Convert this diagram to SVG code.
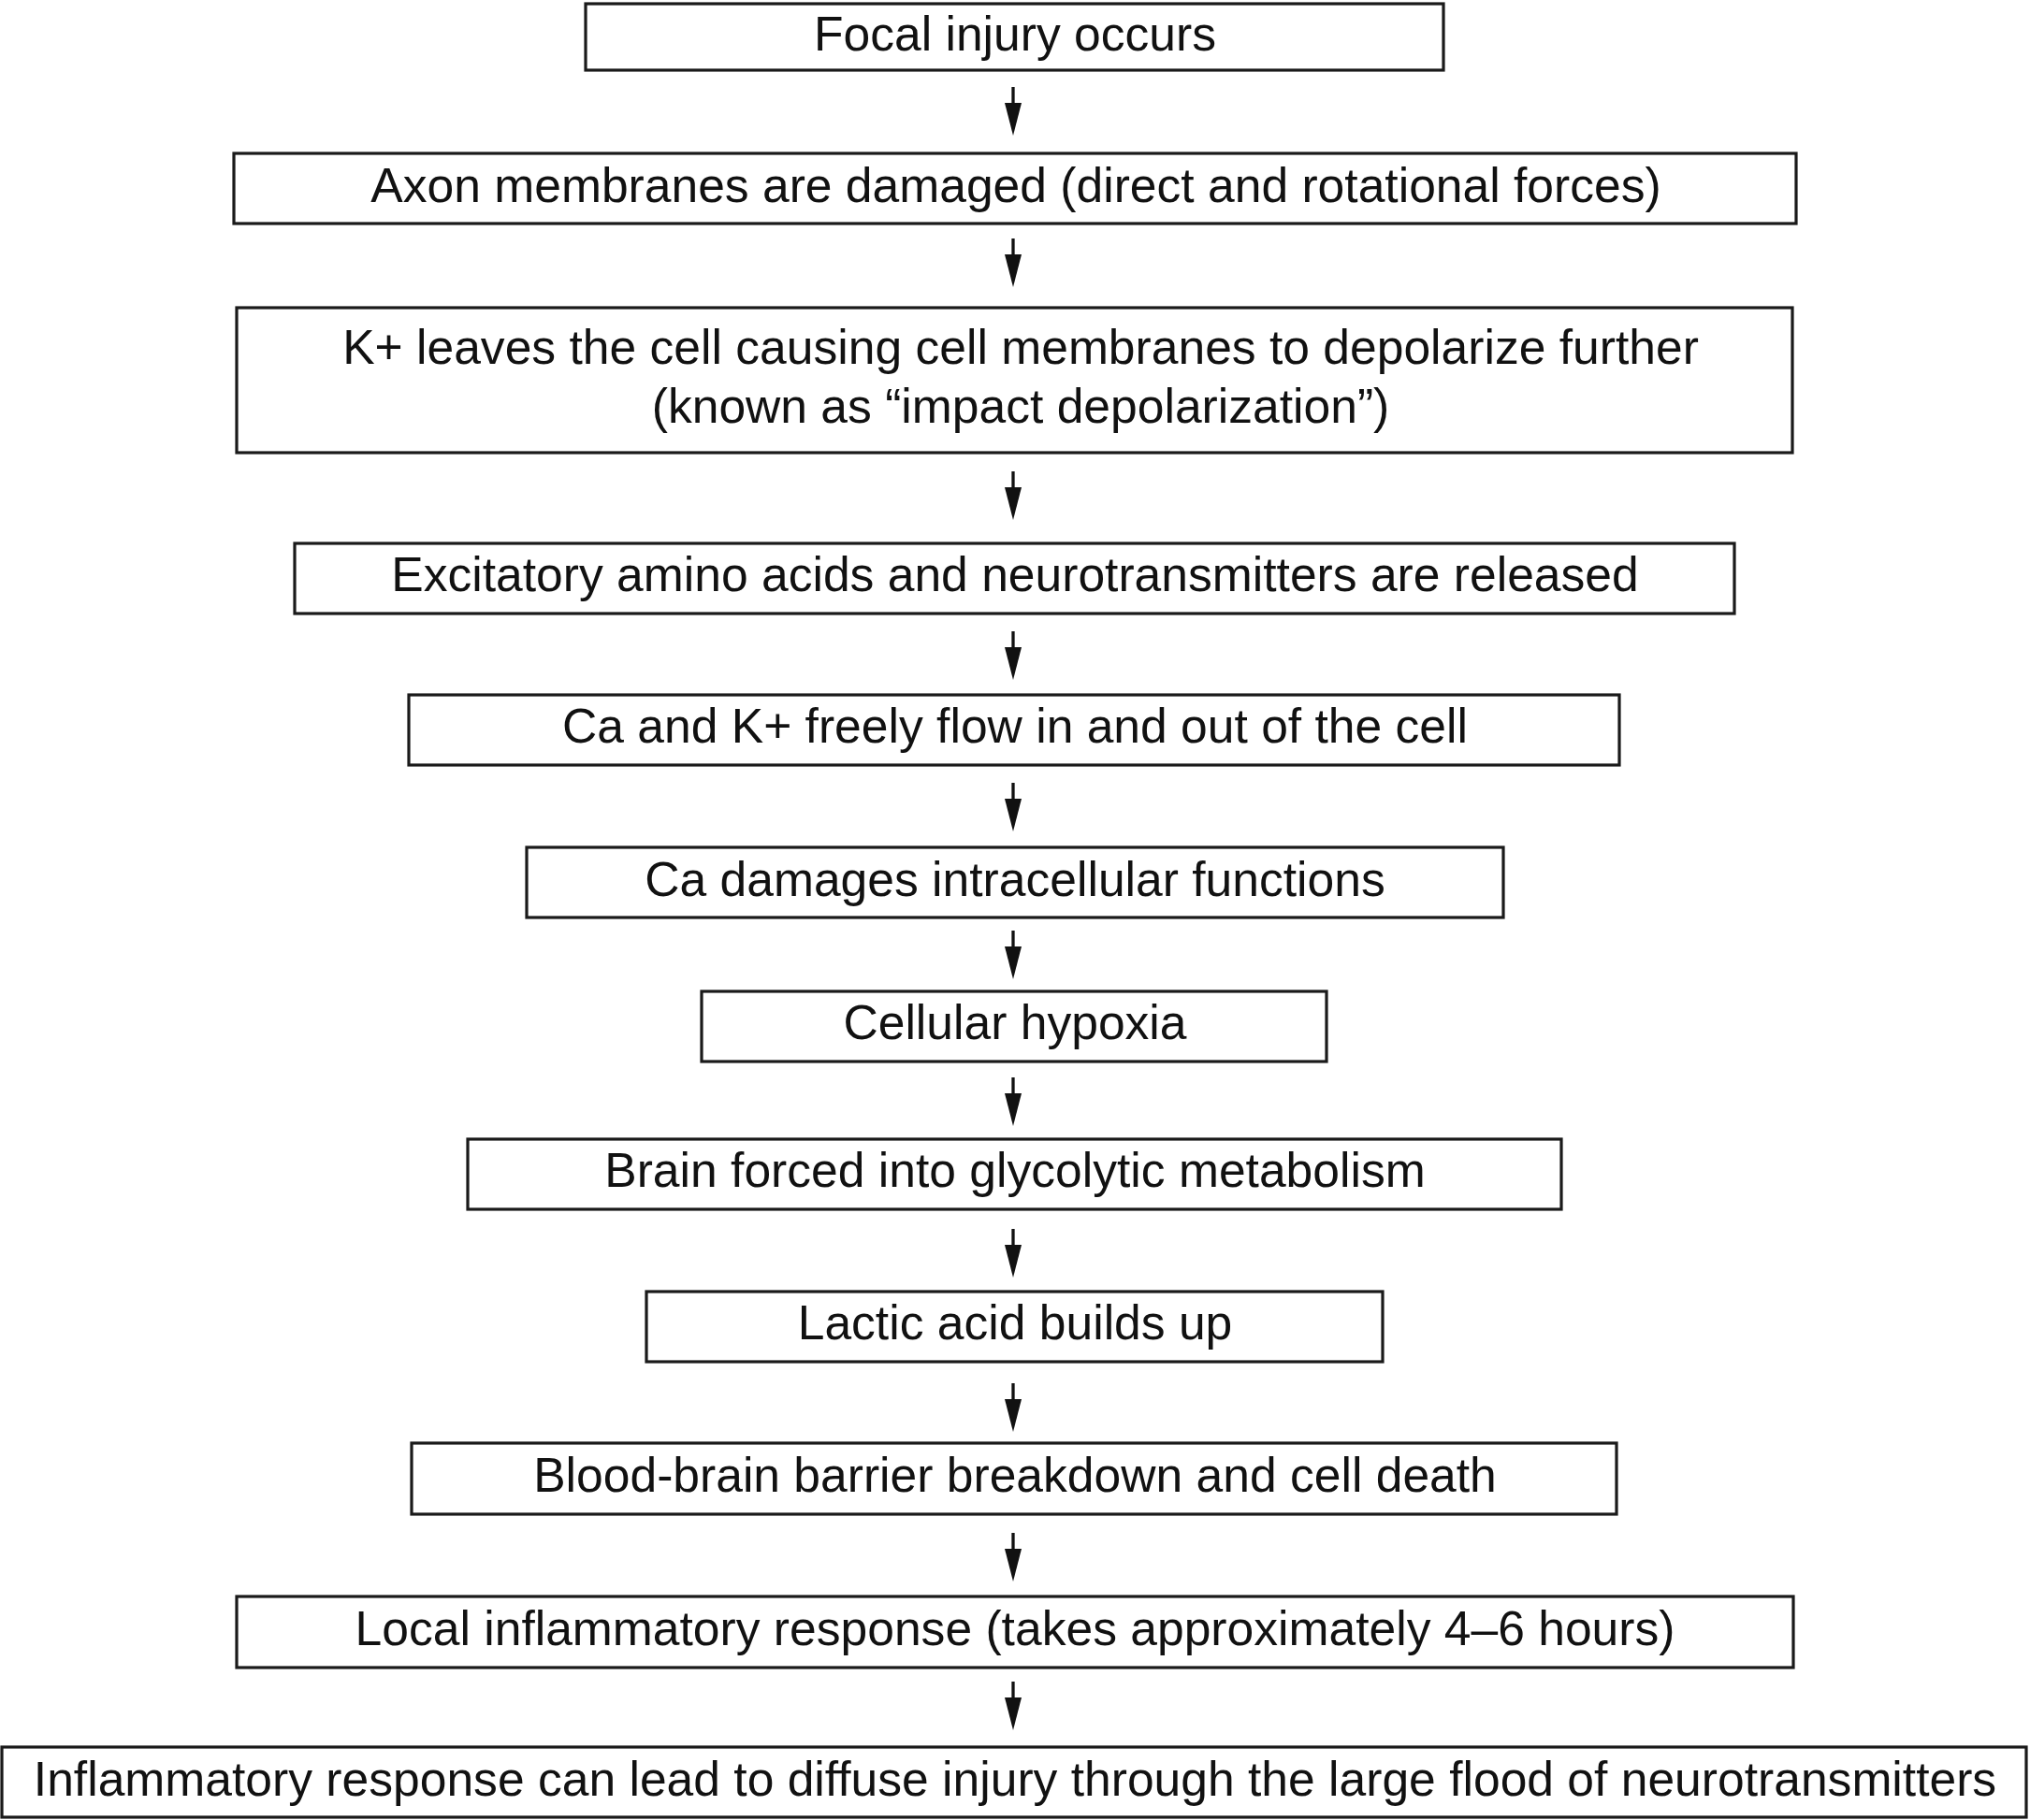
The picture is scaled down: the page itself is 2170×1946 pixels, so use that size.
<svg xmlns="http://www.w3.org/2000/svg" width="2170" height="1946" viewBox="0 0 2170 1946">
  <style>
    .box { fill: #ffffff; stroke: #1a1a1a; stroke-width: 3.2; }
    .lbl { font-family: "Liberation Sans", Arial, sans-serif; font-size: 51.6px; fill: #111111; text-anchor: middle; }
    .conn { stroke: #111111; stroke-width: 3.3; fill: none; }
  </style>
  <defs>
    <marker id="arrowhead" markerUnits="userSpaceOnUse" markerWidth="36" markerHeight="19" viewBox="0 0 36 19" refX="15" refY="9.5" orient="auto">
      <path d="M0,0.5 L35,9.5 L0,18.5 Z" fill="#111111"/>
    </marker>
  </defs>
  <rect width="2170" height="1946" fill="#ffffff"/>

  <g id="connectors">
    <line class="conn" x1="1083" y1="93" x2="1083" y2="125" marker-end="url(#arrowhead)"/>
    <line class="conn" x1="1083" y1="255" x2="1083" y2="287" marker-end="url(#arrowhead)"/>
    <line class="conn" x1="1083" y1="504" x2="1083" y2="536" marker-end="url(#arrowhead)"/>
    <line class="conn" x1="1083" y1="675" x2="1083" y2="707" marker-end="url(#arrowhead)"/>
    <line class="conn" x1="1083" y1="837" x2="1083" y2="869" marker-end="url(#arrowhead)"/>
    <line class="conn" x1="1083" y1="995" x2="1083" y2="1027" marker-end="url(#arrowhead)"/>
    <line class="conn" x1="1083" y1="1152" x2="1083" y2="1184" marker-end="url(#arrowhead)"/>
    <line class="conn" x1="1083" y1="1314" x2="1083" y2="1346" marker-end="url(#arrowhead)"/>
    <line class="conn" x1="1083" y1="1479" x2="1083" y2="1511" marker-end="url(#arrowhead)"/>
    <line class="conn" x1="1083" y1="1639" x2="1083" y2="1671" marker-end="url(#arrowhead)"/>
    <line class="conn" x1="1083" y1="1798" x2="1083" y2="1830" marker-end="url(#arrowhead)"/>
  </g>

  <g id="focal-injury">
    <rect class="box" x="626" y="4" width="917" height="71"/>
    <text class="lbl" x="1085" y="54">Focal injury occurs</text>
  </g>
  <g id="axon-damage">
    <rect class="box" x="250" y="164" width="1670" height="75"/>
    <text class="lbl" x="1086" y="216">Axon membranes are damaged (direct and rotational forces)</text>
  </g>
  <g id="impact-depolarization">
    <rect class="box" x="253" y="329" width="1663" height="155"/>
    <text class="lbl" x="1091" y="389">K+ leaves the cell causing cell membranes to depolarize further</text>
    <text class="lbl" x="1091" y="452">(known as “impact depolarization”)</text>
  </g>
  <g id="excitatory-release">
    <rect class="box" x="315" y="581" width="1539" height="75"/>
    <text class="lbl" x="1085" y="632">Excitatory amino acids and neurotransmitters are released</text>
  </g>
  <g id="ion-flow">
    <rect class="box" x="437" y="743" width="1294" height="75"/>
    <text class="lbl" x="1085" y="794">Ca and K+ freely flow in and out of the cell</text>
  </g>
  <g id="calcium-damage">
    <rect class="box" x="563" y="906" width="1044" height="75"/>
    <text class="lbl" x="1085" y="958">Ca damages intracellular functions</text>
  </g>
  <g id="cellular-hypoxia">
    <rect class="box" x="750" y="1060" width="668" height="75"/>
    <text class="lbl" x="1085" y="1111">Cellular hypoxia</text>
  </g>
  <g id="glycolytic-metabolism">
    <rect class="box" x="500" y="1218" width="1169" height="75"/>
    <text class="lbl" x="1085" y="1269">Brain forced into glycolytic metabolism</text>
  </g>
  <g id="lactic-acid">
    <rect class="box" x="691" y="1381" width="787" height="75"/>
    <text class="lbl" x="1085" y="1432">Lactic acid builds up</text>
  </g>
  <g id="bbb-breakdown">
    <rect class="box" x="440" y="1543" width="1288" height="76"/>
    <text class="lbl" x="1085" y="1595">Blood-brain barrier breakdown and cell death</text>
  </g>
  <g id="local-inflammation">
    <rect class="box" x="253" y="1707" width="1664" height="76"/>
    <text class="lbl" x="1085" y="1759">Local inflammatory response (takes approximately 4–6 hours)</text>
  </g>
  <g id="diffuse-injury">
    <rect class="box" x="2" y="1868" width="2164" height="75"/>
    <text class="lbl" x="1085" y="1920">Inflammatory response can lead to diffuse injury through the large flood of neurotransmitters</text>
  </g>
</svg>
